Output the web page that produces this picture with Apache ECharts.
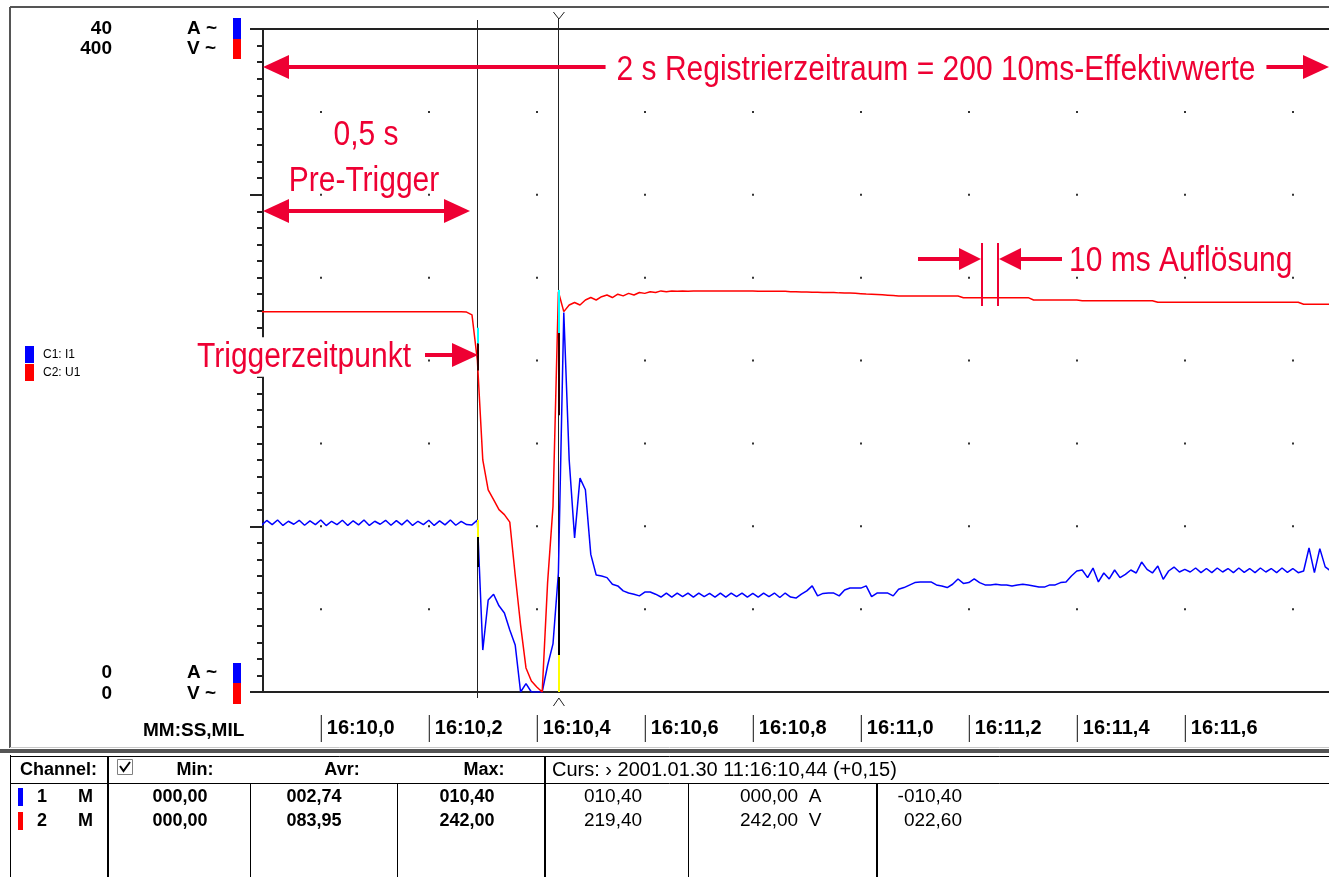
<!DOCTYPE html>
<html><head><meta charset="utf-8">
<script src="https://cdn.jsdelivr.net/npm/echarts@6/dist/echarts.min.js"></script>
<style>html,body{margin:0;padding:0;background:#fff;}#c{width:1329px;height:877px;}</style>
</head><body><div id="c"></div>
<script>
// ---- data ----
const sampleStart = -0.11;   // s relative to 16:10,0
const sampleStep = 0.01;     // 10 ms RMS values
const currentA = [
10.05,10.35,10.10,10.38,10.05,10.30,10.12,10.36,10.06,10.32,
10.10,10.38,10.04,10.30,10.10,10.36,10.05,10.33,10.08,10.38,
10.05,10.30,10.12,10.36,10.06,10.34,10.08,10.38,10.05,10.30,
10.10,10.36,10.05,10.32,10.08,10.38,10.06,10.30,10.10,10.08,
10.38,2.53,5.55,5.90,5.20,4.77,3.74,2.84,0.00,0.50,
0.00,0.00,0.00,1.60,2.90,7.18,22.90,14.00,9.30,12.90,
12.20,8.30,7.06,7.00,6.90,6.50,6.40,6.10,5.97,5.90,
5.80,6.03,6.03,5.90,5.73,5.97,5.73,5.97,5.75,5.97,
5.73,5.97,5.75,5.95,5.73,5.97,5.73,5.97,5.75,5.97,
5.73,5.95,5.73,5.97,5.75,5.97,5.70,5.97,5.73,5.67,
5.90,6.10,6.40,5.80,5.95,5.97,5.97,5.80,6.15,6.27,
6.27,6.27,6.40,5.75,5.97,5.97,5.97,5.80,6.20,6.30,
6.45,6.60,6.64,6.64,6.64,6.46,6.40,6.30,6.50,6.82,
6.55,6.60,6.82,6.60,6.46,6.46,6.50,6.46,6.46,6.40,
6.46,6.50,6.46,6.40,6.33,6.33,6.46,6.46,6.60,6.64,
7.00,7.30,7.36,6.90,7.48,6.64,7.18,6.82,7.36,6.90,
7.10,7.36,7.18,7.84,7.40,7.18,7.60,6.80,7.30,7.54,
7.24,7.40,7.24,7.48,7.20,7.45,7.20,7.48,7.24,7.45,
7.20,7.48,7.22,7.45,7.20,7.48,7.24,7.45,7.20,7.48,
7.22,7.45,7.20,7.30,8.69,7.20,8.65,7.55,7.30,7.30
];
const voltageV = [
229.4,229.4,229.4,229.4,229.4,229.4,229.4,229.4,229.4,229.4,
229.4,229.4,229.4,229.4,229.4,229.4,229.4,229.4,229.4,229.4,
229.4,229.4,229.4,229.4,229.4,229.4,229.4,229.4,229.4,229.4,
229.4,229.4,229.4,229.4,229.4,229.4,229.4,229.4,229.2,227.5,
200,140,122,116,110,107,102.5,70.6,40.4,14.5,
6.6,3,0,66,112,241.5,229.5,233.5,235,233.5,
236.5,238,236.5,238.5,239.5,238,240,239,240.5,239.5,
241,240.5,241.5,241,242,241.5,242,241.8,242,241.8,
242,241.9,242,242,241.9,242,242,242,241.9,242,
242,242,241.8,241.8,241.8,241.8,241.8,241.8,241.5,241.5,
241.3,241.3,241.2,241.2,241,241,241,240.8,240.7,240.7,
240.5,240.3,240.1,240,239.8,239.6,239.4,239.2,238.9,238.9,
238.9,238.9,238.9,238.9,238.9,238.9,238.9,238.9,238.9,238.9,
237.9,237.9,237.9,237.9,237.9,237.9,237.9,237.9,237.9,237.9,
237.9,237.9,237.9,236.5,236.5,236.5,236.5,236.5,236.5,236.5,
236.5,236.5,236.1,236.1,236.1,236.1,236.1,236.1,236.1,236.1,
236.1,236.1,236.1,236.1,236.1,236.1,235.1,235.1,235.1,235.1,
235.1,235.1,235.1,235.1,235.1,235.1,235.1,235.1,235.1,235.1,
235.1,235.1,235.1,235.1,235.1,235.1,235.1,235.1,235.1,235.1,
235.1,235.1,235.1,233.9,233.9,233.9,233.9,233.9,233.9,233.9
];
const timeTickValues = [0, 0.2, 0.4, 0.6, 0.8, 1.0, 1.2, 1.4, 1.6];
const timeTickLabels = ['16:10,0','16:10,2','16:10,4','16:10,6','16:10,8','16:11,0','16:11,2','16:11,4','16:11,6'];
const gridDotValues = [0, 0.2, 0.4, 0.6, 0.8, 1.0, 1.2, 1.4, 1.6, 1.8];
const axisMinTime = -0.107, axisMaxTime = 1.867;
const ampRange = [0, 40];
const voltRange = [0, 400];
const ampTickLabels = ['0', '40'];
const voltTickLabels = ['0', '400'];
const triggerTime = 0.29;
const cursorTime = 0.44;
const triggerMarksA = [10.38, 9.35, 7.54];   // yellow, black
const cursorMarksA = [6.94, 2.23, 0];        // black, yellow
const triggerMarksV = [219.8, 210.2, 194];   // cyan, dark
const cursorMarksV = [242.5, 216.6, 167];    // cyan, dark
const channelNames = ['C1: I1', 'C2: U1'];
const timeAxisName = 'MM:SS,MIL';
const tableHeader = ['Channel:', 'Min:', 'Avr:', 'Max:'];
const cursorHeader = 'Curs: \u203A 2001.01.30 11:16:10,44 (+0,15)';
const tableRow1 = ['1', 'M', '000,00', '002,74', '010,40', '010,40', '000,00  A', '-010,40'];
const tableRow2 = ['2', 'M', '000,00', '083,95', '242,00', '219,40', '242,00  V', '022,60'];
const noteTotal = '2 s Registrierzeitraum = 200 10ms-Effektivwerte';
const notePre1 = '0,5 s', notePre2 = 'Pre-Trigger';
const noteTrig = 'Triggerzeitpunkt';
const noteRes = '10 ms Aufl\u00f6sung';

// ---- chart ----
const FONT = "'Liberation Sans', Arial, Helvetica, sans-serif";
const NOTE = '#ee0033';
const BLUE = '#0000ff', RED = '#ff0000';
const chart = echarts.init(document.getElementById('c'));

const blueData = currentA.map((v, i) => [+(sampleStart + i * sampleStep).toFixed(3), v]);
const redData = voltageV.map((v, i) => [+(sampleStart + i * sampleStep).toFixed(3), v]);

function seg(t, a, b, color) {
  return [{coord: [t, a], lineStyle: {color: color, width: 2, type: 'solid'}}, {coord: [t, b]}];
}

chart.setOption({
  animation: false,
  backgroundColor: '#fff',
  grid: {left: 263, top: 29, right: 0, height: 663},
  legend: {
    orient: 'vertical', left: 20, top: 341, itemWidth: 9, itemHeight: 17, itemGap: 1,
    icon: 'rect', selectedMode: false, data: channelNames,
    textStyle: {fontFamily: FONT, fontSize: 12, color: '#000', padding: [0, 0, 0, 4]}
  },
  xAxis: [{
    type: 'value', min: axisMinTime, max: axisMaxTime,
    axisLine: {show: true, onZero: false, lineStyle: {color: '#222', width: 2}},
    axisTick: {show: false, customValues: gridDotValues},
    axisLabel: {
      customValues: timeTickValues, align: 'left', verticalAlign: 'top', margin: 23,
      formatter: function (v) {
        const k = timeTickValues.findIndex(function (x) { return Math.abs(x - v) < 1e-6; });
        return '{bar| }{t|' + (k >= 0 ? timeTickLabels[k] : '') + '}';
      },
      rich: {
        bar: {width: 1, height: 27, backgroundColor: '#111', verticalAlign: 'middle'},
        t: {fontFamily: FONT, fontSize: 20, fontWeight: 'bold', color: '#000', padding: [0, 0, 0, 5], verticalAlign: 'middle'}
      }
    },
    splitLine: {show: true, lineStyle: {color: '#333', width: 2, type: [2, 80.875], dashOffset: 1}}
  }, {
    type: 'value', position: 'top', min: axisMinTime, max: axisMaxTime,
    axisLine: {show: true, onZero: false, lineStyle: {color: '#222', width: 2}},
    axisTick: {show: false}, axisLabel: {show: false}, splitLine: {show: false}
  }],
  yAxis: [
    {
      type: 'value', min: ampRange[0], max: ampRange[1], interval: 10,
      axisLine: {show: true, onZero: false, lineStyle: {color: '#222', width: 2}},
      axisTick: {show: true, length: 13, lineStyle: {color: '#222', width: 2}},
      minorTick: {show: true, splitNumber: 10, length: 6, lineStyle: {color: '#222', width: 2}},
      axisLabel: {show: false}, splitLine: {show: false}
    },
    {type: 'value', min: voltRange[0], max: voltRange[1], show: false}
  ],
  series: [
    {
      name: channelNames[0], type: 'line', data: blueData, yAxisIndex: 0, showSymbol: false,
      color: BLUE, lineStyle: {color: BLUE, width: 1.5}, z: 3,
      markLine: {
        silent: true, symbol: 'none', label: {show: false}, animation: false,
        data: [
          seg(triggerTime, triggerMarksA[0], triggerMarksA[1], '#ffff00'),
          seg(triggerTime, triggerMarksA[1], triggerMarksA[2], '#000000'),
          seg(cursorTime, cursorMarksA[0], cursorMarksA[1], '#000000'),
          seg(cursorTime, cursorMarksA[1], cursorMarksA[2], '#ffff00')
        ]
      }
    },
    {
      name: channelNames[1], type: 'line', data: redData, yAxisIndex: 1, showSymbol: false,
      color: RED, lineStyle: {color: RED, width: 1.5}, z: 4,
      markLine: {
        silent: true, symbol: 'none', label: {show: false}, animation: false,
        data: [
          seg(triggerTime, triggerMarksV[0], triggerMarksV[1], '#00ffff'),
          seg(triggerTime, triggerMarksV[1], triggerMarksV[2], '#300000'),
          seg(cursorTime, cursorMarksV[0], cursorMarksV[1], '#00ffff'),
          seg(cursorTime, cursorMarksV[1], cursorMarksV[2], '#300000')
        ]
      }
    }
  ]
});

// ---- decorations ----
function L(x1, y1, x2, y2, color, w, z) {
  return {type: 'line', z: z || 50, silent: true, shape: {x1: x1, y1: y1, x2: x2, y2: y2}, style: {stroke: color, lineWidth: w || 1}};
}
function T(x, y, text, o) {
  o = o || {};
  const st = {text: text, fill: o.color || '#000', fontFamily: o.family || FONT, fontSize: o.size || 18,
    fontWeight: o.weight || 'bold', align: o.align || 'left', textAlign: o.align || 'left',
    verticalAlign: 'middle', textVerticalAlign: 'middle'};
  if (o.bg) { st.backgroundColor = o.bg; st.padding = o.pad || 0; }
  const el = {type: 'text', z: o.z || 60, silent: true, x: x, y: y, style: st};
  if (o.sy) { el.scaleY = o.sy; }
  return el;
}
function R(x, y, w, h, fill, stroke, z) {
  return {type: 'rect', z: z || 50, silent: true, shape: {x: x, y: y, width: w, height: h}, style: {fill: fill || 'none', stroke: stroke || null, lineWidth: 1}};
}
function P(points, fill, z) {
  return {type: 'polygon', z: z || 60, silent: true, shape: {points: points}, style: {fill: fill}};
}
function PL(points, color, w, z) {
  return {type: 'polyline', z: z || 60, silent: true, shape: {points: points}, style: {stroke: color, lineWidth: w || 1, fill: null}};
}
function headL(tip, y) { return P([[tip, y], [tip + 26, y - 12], [tip + 26, y + 12]], NOTE, 70); }
function headR(tip, y) { return P([[tip, y], [tip - 26, y - 12], [tip - 26, y + 12]], NOTE, 70); }

const xT = chart.convertToPixel({xAxisIndex: 0}, triggerTime);
const xC = chart.convertToPixel({xAxisIndex: 0}, cursorTime);
const g = [];
const SY = 1.16;

// panel frame
g.push(L(10, 7, 1329, 7, '#555', 2, 40));
g.push(L(10, 7, 10, 748, '#555', 2, 40));
g.push(L(10, 747.5, 1329, 747.5, '#c8c8c8', 1, 40));

// trigger & cursor lines
g.push(L(Math.round(xT) + 0.5, 20, Math.round(xT) + 0.5, 698, '#222', 1, 2));
g.push(L(Math.round(xC) + 0.5, 19, Math.round(xC) + 0.5, 692, '#222', 1, 2));
g.push(PL([[xC - 5, 12], [xC + 0.5, 19], [xC + 6, 12]], '#222', 1, 60));
g.push(PL([[xC - 5, 706], [xC + 0.5, 698], [xC + 6, 706]], '#222', 1, 60));

// left axis labels
g.push(T(112, 29, ampTickLabels[1], {align: 'right', size: 19}));
g.push(T(112, 49, voltTickLabels[1], {align: 'right', size: 19}));
g.push(T(187, 29, 'A ~', {size: 19}));
g.push(T(187, 49, 'V ~', {size: 19}));
g.push(R(233, 18, 8, 21, BLUE));
g.push(R(233, 39, 8, 20, RED));
g.push(T(112, 673, ampTickLabels[0], {align: 'right', size: 19}));
g.push(T(112, 694, voltTickLabels[0], {align: 'right', size: 19}));
g.push(T(187, 673, 'A ~', {size: 19}));
g.push(T(187, 694, 'V ~', {size: 19}));
g.push(R(233, 663, 8, 20, BLUE));
g.push(R(233, 683, 8, 21, RED));
g.push(T(143, 731, timeAxisName, {size: 19}));

// annotations
g.push(L(289, 67, 1303, 67, NOTE, 4, 70));
g.push(headL(263, 67)); g.push(headR(1329, 67));
g.push(T(936, 70, noteTotal, {align: 'center', size: 30, weight: 'normal', color: NOTE, bg: '#fff', pad: [2, 11], z: 80, sy: SY}));
g.push(L(289, 211, 444, 211, NOTE, 4, 70));
g.push(headL(263, 211)); g.push(headR(470, 211));
g.push(T(366, 135, notePre1, {align: 'center', size: 30, weight: 'normal', color: NOTE, sy: SY}));
g.push(T(364, 181, notePre2, {align: 'center', size: 30, weight: 'normal', color: NOTE, sy: SY}));
g.push(L(425, 355, 452, 355, NOTE, 4, 70));
g.push(headR(478, 355));
g.push(T(413, 357, noteTrig, {align: 'right', size: 30, weight: 'normal', color: NOTE, bg: '#fff', pad: [2, 2], z: 80, sy: SY}));
g.push(L(918, 259, 960, 259, NOTE, 4, 70));
g.push(P([[981, 259], [959, 248], [959, 270]], NOTE, 70));
g.push(L(982, 243, 982, 306, NOTE, 2, 70));
g.push(L(998, 243, 998, 306, NOTE, 2, 70));
g.push(P([[999, 259], [1021, 248], [1021, 270]], NOTE, 70));
g.push(L(1020, 259, 1062, 259, NOTE, 4, 70));
g.push(T(1069, 261, noteRes, {size: 30, weight: 'normal', color: NOTE, sy: SY}));

// table
g.push(R(0, 749, 1329, 4, '#555'));
g.push(L(10.5, 755, 10.5, 877, '#000', 1));
g.push(L(10, 756.5, 1329, 756.5, '#000', 1));
g.push(L(10, 783.5, 1329, 783.5, '#000', 1));
g.push(L(108, 756, 108, 877, '#000', 2));
g.push(L(250.5, 783, 250.5, 877, '#000', 1));
g.push(L(397.5, 783, 397.5, 877, '#000', 1));
g.push(L(545, 756, 545, 877, '#000', 2));
g.push(L(688.5, 783, 688.5, 877, '#000', 1));
g.push(L(877, 783, 877, 877, '#000', 2));
g.push(R(117.5, 759.5, 15, 15, '#fff', '#808080'));
g.push(PL([[120, 766], [123.5, 771], [130, 762]], '#000', 2));
g.push(T(20, 770, tableHeader[0], {size: 18}));
g.push(T(195, 770, tableHeader[1], {size: 18, align: 'center'}));
g.push(T(342, 770, tableHeader[2], {size: 18, align: 'center'}));
g.push(T(484, 770, tableHeader[3], {size: 18, align: 'center'}));
g.push(T(552, 770, cursorHeader, {size: 20, weight: 'normal'}));
[[tableRow1, 797, BLUE], [tableRow2, 821, RED]].forEach(function (r) {
  const row = r[0], y = r[1];
  g.push(R(18, y - 9, 5, 18, r[2]));
  g.push(T(37, y, row[0], {size: 18}));
  g.push(T(78, y, row[1], {size: 18}));
  g.push(T(180, y, row[2], {size: 18, align: 'center'}));
  g.push(T(314, y, row[3], {size: 18, align: 'center'}));
  g.push(T(467, y, row[4], {size: 18, align: 'center'}));
  g.push(T(613, y, row[5], {size: 19, weight: 'normal', align: 'center'}));
  g.push(T(740, y, row[6], {size: 19, weight: 'normal'}));
  g.push(T(962, y, row[7], {size: 19, weight: 'normal', align: 'right'}));
});

chart.setOption({graphic: {elements: g}});
</script>
</body></html>
